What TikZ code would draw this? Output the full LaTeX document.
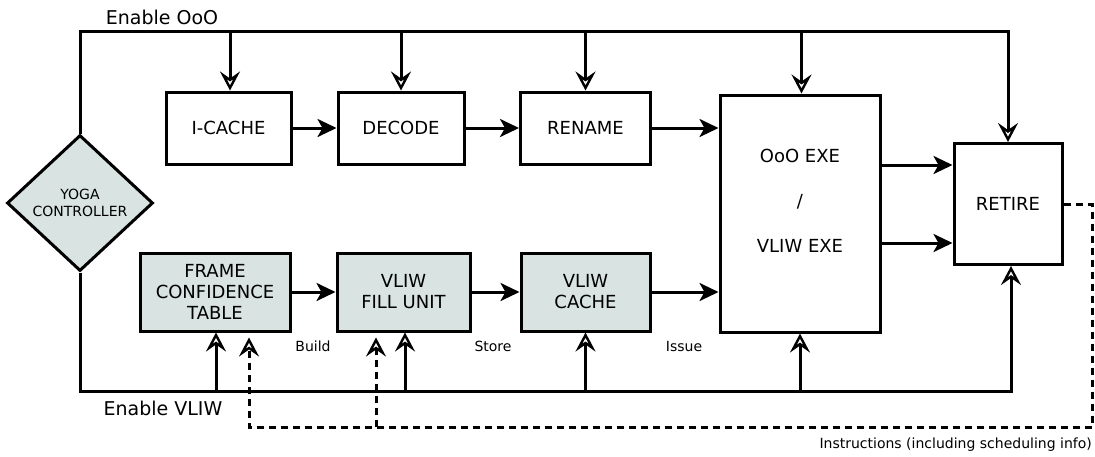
\documentclass[tikz,border=0pt]{standalone}
\usepackage{fontspec}
\setmainfont{DejaVu Sans}
\usetikzlibrary{arrows.meta,shapes.geometric}
\definecolor{unitfill}{HTML}{D8E3E2}

\tikzset{
  unit/.style={draw, line width=3pt, inner sep=0pt, align=center, font=\fontsize{18}{21}\selectfont},
  vunit/.style={unit, fill=unitfill},
  flow/.style={line width=3pt, -{Stealth[length=19pt,width=18pt,inset=5pt]}},
  ctrl/.style={line width=3pt, -{Stealth[open,fill=white,length=19pt,width=20pt,inset=7pt,line width=2.4pt]}},
  instr/.style={ctrl, dash pattern=on 7pt off 5pt, shorten >=5pt},
  tag/.style={inner sep=0pt, font=\fontsize{14}{16}\selectfont},
  bigtag/.style={inner sep=0pt, font=\fontsize{19}{22}\selectfont},
}

\begin{document}
\begin{tikzpicture}[x=1pt,y=-1pt]
  \useasboundingbox (0,0) rectangle (1095,456);

  % front end
  \node[unit, minimum width=125pt, minimum height=72pt] (icache) at (228.5,128) {I-CACHE};
  \node[unit, minimum width=126pt, minimum height=72pt] (decode) at (401,128) {DECODE};
  \node[unit, minimum width=130pt, minimum height=72pt] (rename) at (585.5,128) {RENAME};

  % vliw path
  \node[vunit, minimum width=150pt, minimum height=78pt] (fct) at (215,292) {FRAME\\CONFIDENCE\\TABLE};
  \node[vunit, minimum width=133pt, minimum height=78pt] (fill) at (403.5,292) {VLIW\\FILL UNIT};
  \node[vunit, minimum width=129pt, minimum height=78pt] (vcache) at (585.5,292) {VLIW\\CACHE};

  % back end
  \node[unit, minimum width=160pt, minimum height=237pt] (exe) at (800,213.5) {OoO EXE\\[24pt]/\\[24pt]VLIW EXE\\[4pt]~};
  \node[unit, minimum width=108pt, minimum height=121pt] (retire) at (1008,204) {RETIRE};

  % controller
  \node[diamond, draw, fill=unitfill, line width=3pt, inner sep=0pt, aspect=1.07,
        minimum width=146pt, minimum height=136pt, align=center,
        font=\fontsize{14}{17}\selectfont] (yoga) at (80,203) {YOGA\\CONTROLLER};

  \coordinate (ooo) at (80,31);
  \coordinate (vliw) at (80,391);
  \coordinate (loop) at (1092,427);

  % data flow
  \draw[flow] (icache) -- (decode);
  \draw[flow] (decode) -- (rename);
  \draw[flow] (rename.east) -- (rename.east -| exe.west);
  \draw[flow] (fct) -- (fill);
  \draw[flow] (fill) -- (vcache);
  \draw[flow] (vcache.east) -- (vcache.east -| exe.west);
  \draw[flow] ([yshift=48.5pt]exe.east) -- ([yshift=48.5pt]exe.east -| retire.west);
  \draw[flow] ([yshift=-29.5pt]exe.east) -- ([yshift=-29.5pt]exe.east -| retire.west);

  % enable OoO
  \draw[ctrl] (yoga.north) |- (retire.north |- ooo) -- (retire.north);
  \draw[ctrl] ([xshift=1.5pt]icache.north |- ooo) -- ([xshift=1.5pt]icache.north);
  \draw[ctrl] (decode.north |- ooo) -- (decode.north);
  \draw[ctrl] (rename.north |- ooo) -- (rename.north);
  \draw[ctrl] ([xshift=1.5pt]exe.north |- ooo) -- ([xshift=1.5pt]exe.north);

  % enable VLIW
  \draw[ctrl] (yoga.south) |- ([xshift=3pt]retire.south |- vliw) -- ([xshift=3pt]retire.south);
  \draw[ctrl] ([xshift=1pt]fct.south |- vliw) -- ([xshift=1pt]fct.south);
  \draw[ctrl] ([xshift=1.5pt]fill.south |- vliw) -- ([xshift=1.5pt]fill.south);
  \draw[ctrl] (vcache.south |- vliw) -- (vcache.south);
  \draw[ctrl] (exe.south |- vliw) -- (exe.south);

  % instructions fed back
  \draw[instr] (retire.east) -| (loop) -| ([xshift=34pt]fct.south);
  \draw[instr] ([xshift=-27.5pt]fill.south |- loop) -- ([xshift=-27.5pt]fill.south);

  % labels
  \node[bigtag] (lblooo) at (162,17) {Enable OoO};
  \node[bigtag] (lblvliw) at (163,408) {Enable VLIW};
  \node[tag] (lblbuild) at (313,346) {Build};
  \node[tag] (lblstore) at (493,346) {Store};
  \node[tag] (lblissue) at (684,346) {Issue};
  \node[tag, anchor=east] (lblinstr) at (1092,445) {Instructions (including scheduling info)};
\end{tikzpicture}
\end{document}
